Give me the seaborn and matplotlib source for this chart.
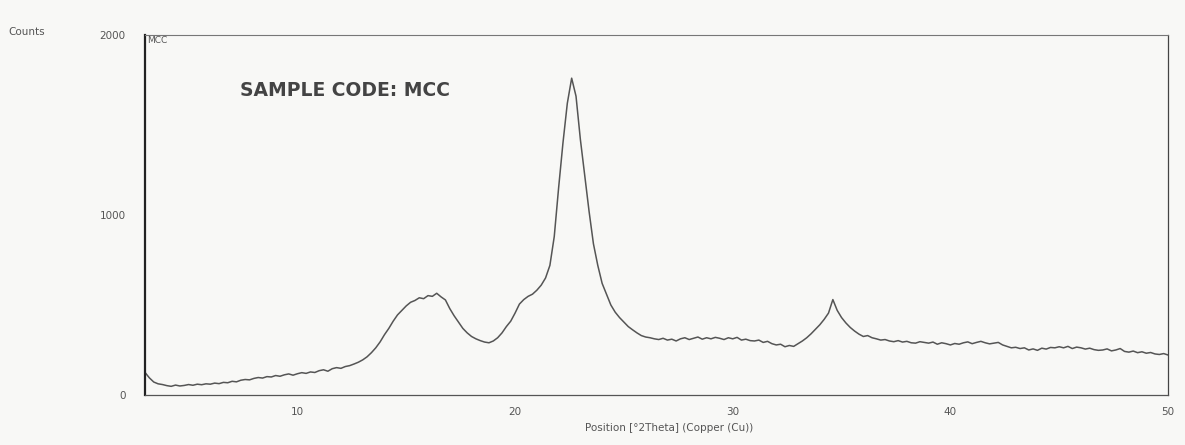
import numpy as np
import pandas as pd
import seaborn as sns
import matplotlib.pyplot as plt
from matplotlib.ticker import MultipleLocator

# 2theta 位置（步长 0.2）
two_theta = np.round(np.arange(3.0, 50.01, 0.2), 1)

# 计数值
counts = [
    125, 95, 72, 62, 58, 52, 48, 55, 50, 53,
    58, 54, 60, 57, 62, 60, 66, 63, 70, 68,
    76, 73, 82, 86, 84, 92, 97, 94, 102, 100,
    108, 104, 112, 117, 110, 118, 124, 120, 128, 125,
    135, 140, 132, 146, 152, 148, 158, 163, 172, 182,
    195, 212, 235, 262, 295, 335, 370, 410, 445, 470,
    495, 515, 525, 540, 535, 552, 548, 565, 545, 528,
    480, 440, 405, 370, 345, 325, 312, 302, 294, 290,
    300, 318, 345, 380, 410, 455, 505, 530, 548, 560,
    582, 610, 650, 720, 880, 1150, 1400, 1620, 1760, 1660,
    1420, 1220, 1020, 840, 720, 620, 560, 500, 460, 430,
    405, 380, 362, 345, 330, 322, 318, 312, 308, 315,
    305, 310, 300, 312, 318, 308, 315, 322, 310, 318,
    312, 320, 315, 308, 318, 312, 320, 305, 310, 302,
    300, 305, 292, 298, 285, 278, 282, 268, 275, 270,
    285, 300, 318, 340, 365, 390, 420, 455, 530, 470,
    430, 400, 375, 355, 338, 325, 330, 318, 312, 305,
    308, 300, 296, 302, 294, 298, 290, 288, 296, 292,
    288, 294, 282, 290, 285, 278, 286, 282, 290, 295,
    285, 292, 298, 290, 284, 288, 292, 278, 270, 262,
    265, 258, 262, 250, 256, 248, 260, 255, 264, 262,
    268, 262, 270, 258, 266, 262, 255, 260, 252, 248,
    250, 256, 245, 250, 258, 242, 238, 244, 235, 240,
    232, 236, 228, 225, 230, 222,
]

y_ticks = [0, 1000, 2000]
x_ticks = [10, 20, 30, 40, 50]

df = pd.DataFrame({'pos': two_theta, 'counts': counts})

sns.set_style('white')
plt.rcParams['font.family'] = ['DejaVu Sans']

fig = plt.figure(figsize=(11.85, 4.45), dpi=100)
fig.patch.set_facecolor('#f8f8f6')
ax = fig.add_axes([0.1224, 0.1124, 0.8633, 0.809])
ax.set_facecolor('#f8f8f6')

sns.lineplot(data=df, x='pos', y='counts', ax=ax, color='#555555', linewidth=1.1)

ax.set_xlim(3, 50)
ax.set_ylim(0, 2000)
ax.set_xticks(x_ticks)
ax.xaxis.set_minor_locator(MultipleLocator(1))
ax.set_yticks(y_ticks)
ax.set_xlabel('')
ax.set_ylabel('')

# 坐标轴样式
ax.spines['left'].set_linewidth(1.6)
ax.spines['left'].set_color('#222222')
ax.spines['top'].set_linewidth(0.8)
ax.spines['top'].set_color('#777777')
ax.spines['right'].set_linewidth(0.9)
ax.spines['right'].set_color('#444444')
ax.spines['bottom'].set_linewidth(0.9)
ax.spines['bottom'].set_color('#555555')

ax.tick_params(axis='y', direction='out', length=11, width=0.8, color='#888888',
               labelsize=7.5, labelcolor='#555555', pad=3)
ax.tick_params(axis='x', which='major', direction='out', length=6, width=0.8,
               color='#555555', labelsize=7.5, labelcolor='#555555', pad=3)
ax.tick_params(axis='x', which='minor', direction='out', length=3.5, width=0.7,
               color='#555555')

# 文字
ax.text(0.002, 0.997, 'MCC', transform=ax.transAxes, fontsize=6.5,
        color='#555555', ha='left', va='top')
ax.text(7.35, 1694, 'SAMPLE CODE: MCC', fontsize=13.5, fontweight='bold',
        color='#444444', ha='left', va='center')
fig.text(0.007, 0.928, 'Counts', fontsize=7.5, color='#555555', ha='left', va='center')
fig.text(0.4937, 0.038, 'Position [°2Theta] (Copper (Cu))', fontsize=7.5,
         color='#555555', ha='left', va='center')

fig.savefig('out.png', dpi=100, facecolor=fig.get_facecolor())
